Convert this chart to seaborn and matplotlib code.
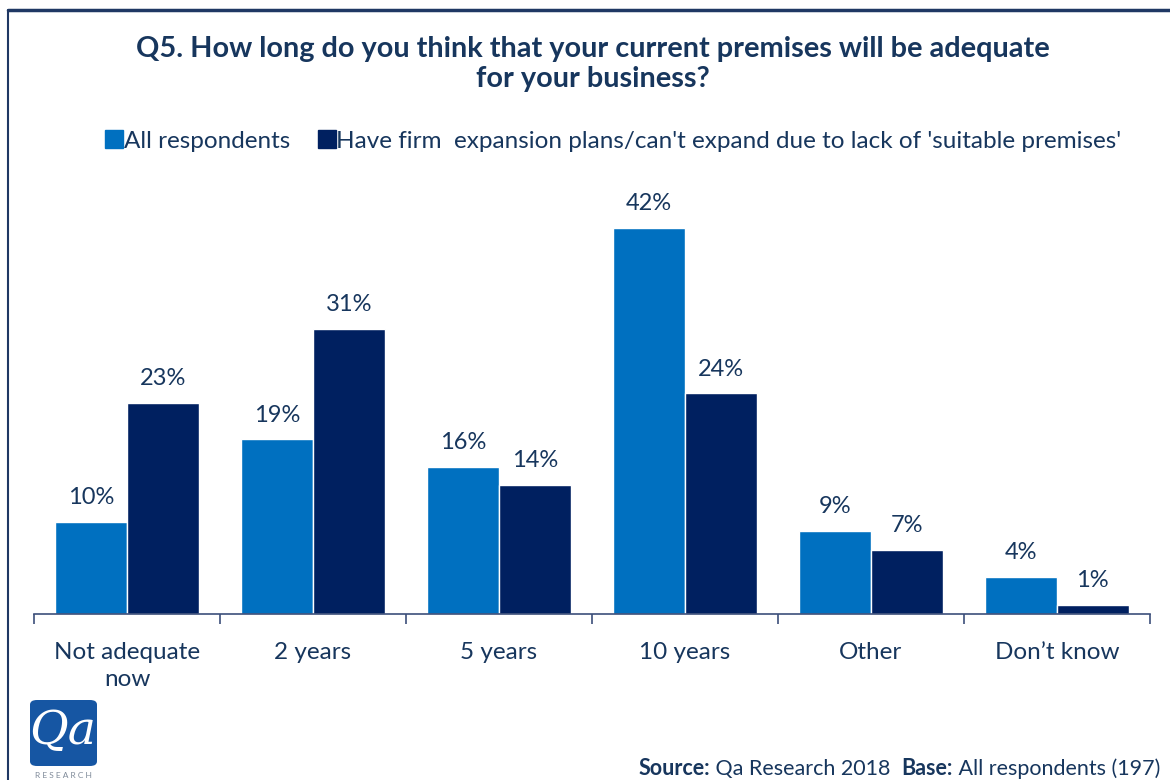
import matplotlib
matplotlib.use("Agg")
import matplotlib.pyplot as plt
import seaborn as sns
import pandas as pd
from matplotlib.patches import FancyBboxPatch
from matplotlib.lines import Line2D
from matplotlib.offsetbox import TextArea, HPacker, AnchoredOffsetbox
from matplotlib.ticker import FixedLocator, NullFormatter

# --- data -------------------------------------------------------------
categories = ["Not adequate\nnow", "2 years", "5 years", "10 years", "Other", "Don\u2019t know"]
series_names = ["All respondents",
                "Have firm  expansion plans/can't expand due to lack of 'suitable premises'"]
all_respondents = [10, 19, 16, 42, 9, 4]
firm_plans = [23, 31, 14, 24, 7, 1]

df = pd.DataFrame({
    "category": categories * 2,
    "group": [series_names[0]] * len(categories) + [series_names[1]] * len(categories),
    "value": all_respondents + firm_plans,
})

# --- style ------------------------------------------------------------
sns.set_theme(style="white")
plt.rcParams["font.family"] = ["Lato", "DejaVu Sans"]

TEXT = "#17365D"
LIGHT = "#0070C0"
DARK = "#002060"

fig = plt.figure(figsize=(11.7, 7.8), dpi=100)
ax = fig.add_axes([34 / 1170, (780 - 614) / 780, (1150 - 34) / 1170, 45 * 9.19 / 780])

sns.barplot(data=df, x="category", y="value", hue="group", order=categories,
            hue_order=series_names, palette=[LIGHT, DARK], width=0.77,
            saturation=1, ax=ax, legend=False)

for cont in ax.containers:
    ax.bar_label(cont, labels=[f"{v:.0f}%" for v in cont.datavalues],
                 padding=10, fontsize=17, color=TEXT)

ax.set_ylim(0, 45)
ax.set_xlim(-0.5, len(categories) - 0.5)
ax.set_xlabel("")
ax.set_ylabel("")
ax.set_yticks([])
for side in ["top", "right", "left"]:
    ax.spines[side].set_visible(False)
ax.spines["bottom"].set_color("#3C4F7A")
ax.spines["bottom"].set_linewidth(1.2)

ax.tick_params(axis="x", which="major", length=0, pad=20, labelsize=17.5, labelcolor=TEXT)
for lab in ax.get_xticklabels():
    lab.set_linespacing(1.35)
ax.xaxis.set_minor_locator(FixedLocator([i - 0.5 for i in range(len(categories) + 1)]))
ax.xaxis.set_minor_formatter(NullFormatter())
ax.tick_params(axis="x", which="minor", length=7, width=1.2, color="#3C4F7A",
               direction="out", bottom=True)

# --- title & legend -----------------------------------------------------
fig.text(0.507, 1 - 64 / 780, "Q5. How long do you think that your current premises will be adequate\nfor your business?",
         ha="center", va="center", fontsize=20.8, fontweight="bold", color=TEXT,
         linespacing=1.2)

handles = [Line2D([], [], marker="s", linestyle="none", markersize=13,
                  markerfacecolor=c, markeredgecolor=c) for c in (LIGHT, DARK)]
fig.legend(handles, series_names, loc="center", bbox_to_anchor=(0.524, 1 - 141 / 780),
           ncol=2, frameon=False, fontsize=17.5, labelcolor=TEXT, handletextpad=0.0,
           columnspacing=1.1, handlelength=0.8)

# --- frame ------------------------------------------------------------
fig.add_artist(Line2D([8 / 1170, 1.0], [1 - 10 / 780, 1 - 10 / 780],
                      transform=fig.transFigure, color="#1F3864", lw=2.5))
fig.add_artist(Line2D([8 / 1170, 8 / 1170], [0, 1 - 10 / 780],
                      transform=fig.transFigure, color="#1F3864", lw=1.5))

# --- footer -----------------------------------------------------------
parts = [("Source:", "bold"), (" Qa Research 2018  ", "normal"),
         ("Base:", "bold"), (" All respondents (197)", "normal")]
boxes = [TextArea(t, textprops=dict(fontsize=15.5, fontweight=w, color=TEXT)) for t, w in parts]
footer = AnchoredOffsetbox(loc="lower right", child=HPacker(children=boxes, pad=0, sep=0),
                           bbox_to_anchor=(1160 / 1170, 1 / 780),
                           bbox_transform=fig.transFigure, frameon=False, pad=0, borderpad=0)
fig.add_artist(footer)

# --- logo -------------------------------------------------------------
logo = FancyBboxPatch((30 / 1170, 1 - 766 / 780), 67 / 1170, 66 / 780,
                      boxstyle="round,pad=0,rounding_size=0.006",
                      transform=fig.transFigure, facecolor="#1656A3", edgecolor="none")
fig.add_artist(logo)
fig.text(63 / 1170, 1 - 731 / 780, "Qa", ha="center", va="center", fontsize=34,
         color="white", family="DejaVu Serif", style="italic")
fig.text(63 / 1170, 1 - 776 / 780, "R E S E A R C H", ha="center", va="center",
         fontsize=6, color="#7F8A99")

fig.savefig("out.png", dpi=100)
